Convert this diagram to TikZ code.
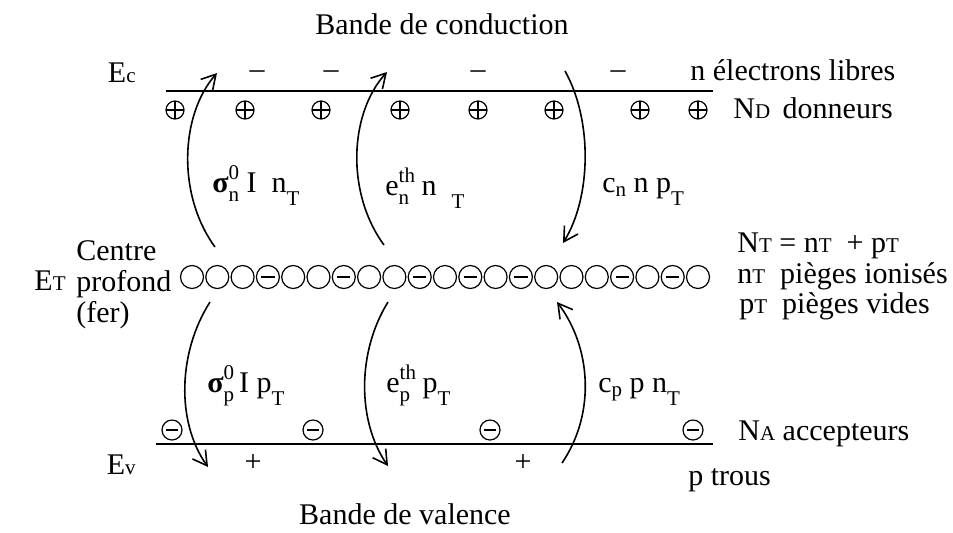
\documentclass[tikz,border=0pt]{standalone}
\usepackage{fontspec}
\setmainfont{Liberation Serif}
\usetikzlibrary{arrows.meta}

\newcommand{\smf}{\fontsize{10.5}{12}\selectfont}
\newcommand{\idx}[2]{#1{\smf #2}}
\newcommand{\subsup}[3]{#1\rlap{\raisebox{0.42em}{\smf #2}}\raisebox{-0.3em}{\smf #3}}
\newcommand{\lowsub}[1]{\raisebox{-0.45em}{\smf #1}}

\begin{document}
\begin{tikzpicture}[
x=0.5pt, y=0.5pt,
every node/.style={font=\fontsize{15}{18}\selectfont},
lbl/.style={anchor=base west, inner sep=0pt},
band/.style={line width=1.1pt},
trap/.style={circle, draw, line width=0.6pt, minimum size=11.5pt, inner sep=0pt},
ionised/.style={trap, path picture={\draw[line width=1.2pt] ([xshift=-3.3pt]path picture bounding box.center) -- ([xshift=3.3pt]path picture bounding box.center);}},
donor/.style={circle, draw, line width=0.6pt, minimum size=9pt, inner sep=0pt, path picture={\draw[line width=0.6pt] (path picture bounding box.north) -- (path picture bounding box.south) (path picture bounding box.west) -- (path picture bounding box.east);}},
acceptor/.style={circle, draw, line width=0.6pt, minimum size=10pt, inner sep=0pt, path picture={\draw[line width=1.1pt] ([xshift=-2.8pt]path picture bounding box.center) -- ([xshift=2.8pt]path picture bounding box.center);}},
carrier/.style={inner sep=0pt},
arrow/.style={-{Straight Barb[length=7pt, width=8pt]}, line width=0.8pt}
]
\useasboundingbox (0,0) rectangle (953,-532);

% Bandes
\coordinate (cb_left) at (166,-91);
\coordinate (cb_right) at (713,-91);
\coordinate (vb_left) at (156,-444);
\coordinate (vb_right) at (713,-444);
\draw[band] (cb_left) -- (cb_right);
\draw[band] (vb_left) -- (vb_right);

\node (conduction) at (442,-24) {Bande de conduction};
\node (valence) at (405,-514) {Bande de valence};

\node[anchor=base east, inner sep=0pt] (ec) at (136,-82) {E\idx{}{c}};
\node[anchor=base east, inner sep=0pt] (ev) at (136,-474) {E\idx{}{v}};
\node[anchor=base east, inner sep=0pt] (et) at (66,-290) {E\idx{}{T}};

% Donneurs et electrons
\foreach \x [count=\i] in {175,245,321,400,478,554,640,698}
  \node[donor] (d\i) at (\x,-110) {};
\foreach \x [count=\i] in {257,331,478,618}
  \node[carrier] (el\i) at (\x,-75) {--};

% Accepteurs et trous
\foreach \x [count=\i] in {172,313,490,693}
  \node[acceptor] (a\i) at (\x,-430) {};
\foreach \x [count=\i] in {253,523}
  \node[carrier] (h\i) at (\x,-463) {+};

% Centres profonds
\foreach \s [count=\i] in {trap,trap,trap,ionised,trap,trap,ionised,trap,trap,ionised,trap,ionised,trap,ionised,trap,trap,trap,ionised,trap,ionised,trap}
  \node[\s] (t\i) at ({192+25.3*(\i-1)},-277) {};

\node[lbl, align=left] (centre) at (76,-260) {Centre};
\node[lbl] (profond) at (76,-291) {profond};
\node[lbl] (fer) at (76,-322) {(fer)};

% Legendes a droite
\node[lbl] (nlibres) at (690,-80) {n électrons libres};
\node[lbl] (donneurs) at (733,-118) {N\idx{}{D}\, donneurs};
\node[lbl] (ntotal) at (737,-252) {N\idx{}{T} = n\idx{}{T} \ + p\idx{}{T}};
\node[lbl] (ionises) at (737,-283) {n\idx{}{T} \ pièges ionisés};
\node[lbl] (vides) at (739,-313) {p\idx{}{T} \ pièges vides};
\node[lbl] (accepteurs) at (738,-440) {N\idx{}{A} accepteurs};
\node[lbl] (ptrous) at (688,-485) {p trous};

% Transitions
\coordinate (s1) at (215,-247); \coordinate (e1) at (217,-73);
\coordinate (s2) at (384,-245); \coordinate (e2) at (387,-72);
\coordinate (s3) at (565,-71);  \coordinate (e3) at (563,-243);
\coordinate (s4) at (210,-302); \coordinate (e4) at (208,-467);
\coordinate (s5) at (388,-302); \coordinate (e5) at (388,-466);
\coordinate (s6) at (562,-463); \coordinate (e6) at (557,-302);

\draw[arrow] (s1) .. controls +(-38,52) and +(-37,-42) .. (e1);
\draw[arrow] (s2) .. controls +(-38,52) and +(-38,-42) .. (e2);
\draw[arrow] (s3) .. controls +(28,-50) and +(28,45) .. (e3);
\draw[arrow] (s4) .. controls +(-32,-50) and +(-32,45) .. (e4);
\draw[arrow] (s5) .. controls +(-31,-50) and +(-31,45) .. (e5);
\draw[arrow] (s6) .. controls +(34,50) and +(34,-45) .. (e6);

\node[lbl] (rate1) at (212,-192) {\subsup{\textbf{σ}}{0}{n} I \ n\lowsub{T}};
\node[lbl] (rate2) at (385,-195) {\subsup{e}{th}{n}\, n \ \lowsub{T}};
\node[lbl] (rate3) at (602,-192) {c\raisebox{-0.15em}{\smf n} n p\lowsub{T}};
\node[lbl] (rate4) at (207,-392) {\subsup{\textbf{σ}}{0}{p}\,I p\lowsub{T}};
\node[lbl] (rate5) at (386,-392) {\subsup{e}{th}{p}\, p\lowsub{T}};
\node[lbl] (rate6) at (598,-392) {c\raisebox{-0.15em}{\smf p} p n\lowsub{T}};

\end{tikzpicture}
\end{document}
